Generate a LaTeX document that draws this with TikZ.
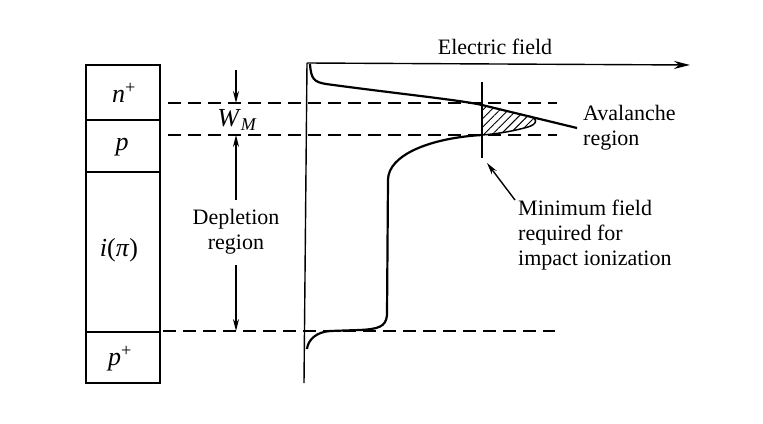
\documentclass[tikz,border=0pt]{standalone}
\usepackage{fontspec}
\setmainfont{Liberation Serif}
\usetikzlibrary{arrows.meta,patterns.meta}
\begin{document}
\begin{tikzpicture}[x=1pt,y=-1pt,
  txt/.style={font=\fontsize{22}{25}\selectfont, inner sep=0pt, align=left},
  lbl/.style={font=\fontsize{26}{28}\selectfont, inner sep=0pt},
  thin/.style={line width=1.4pt},
  thick/.style={line width=2.2pt},
  dsh/.style={line width=1.4pt, dash pattern=on 13pt off 7pt},
  arr/.style={line width=1.4pt, -{Stealth[length=12pt,width=6pt]}}]
\useasboundingbox (0,0) rectangle (763,423);
% layer stack
\draw[thin] (86,65) rectangle (160,383);
\draw[thin] (86,120) -- (160,120);
\draw[thin] (86,172) -- (160,172);
\draw[thin] (86,332) -- (160,332);
\node[lbl] (nplus) at (124,93) {\textit{n}\textsuperscript{+}};
\node[lbl] (pl) at (122,147) {\textit{p}};
\node[lbl] (il) at (119,250) {\textit{i}(\textit{π})};
\node[lbl] (pplus) at (120,359) {\textit{p}\textsuperscript{+}};
% dashed lines
\coordinate (d1a) at (168,103); \coordinate (d1b) at (557,103);
\coordinate (d2a) at (168,135); \coordinate (d2b) at (557,135);
\coordinate (d3a) at (163,331); \coordinate (d3b) at (555,331);
\draw[dsh] (d1a) -- (d1b);
\draw[dsh] (d2a) -- (d2b);
\draw[dsh] (d3a) -- (d3b);
% W_M and depletion region
\coordinate (wtop) at (236,70);
\coordinate (w1) at (236,103);
\coordinate (w2) at (236,135);
\coordinate (w3) at (236,331);
\node[lbl] (wm) at (237,120) {\textit{W}\raisebox{-0.3ex}{\fontsize{18}{19}\selectfont\textit{M}}};
\node[txt, align=center] (dep) at (236,232) {Depletion\\region};
\draw[arr] (wtop) -- (w1);
\draw[arr] (dep.north |- 0,200) -- (w2);
\draw[arr] (dep.south |- 0,265) -- (w3);
% axes
\coordinate (o) at (307,63);
\coordinate (ob) at (304,383);
\coordinate (xe) at (690,65);
\draw[thin] (o) -- (ob);
\draw[line width=1.4pt, -{Stealth[length=16pt,width=8pt]}] (o) -- (xe);
\node[txt] (ef) at (495,47) {Electric field};
% avalanche hatch
\fill[pattern={Lines[angle=45,distance=6pt,line width=0.9pt]}]
  (482,105) -- (528,116) .. controls (538,118) and (538,124) .. (528,127)
  .. controls (510,132) and (495,134) .. (482,135) -- cycle;
\draw[line width=1.5pt] (528,116) .. controls (538,118) and (538,124) .. (528,127)
  .. controls (510,132) and (495,134) .. (482,135);
% field profile
\draw[thick] (310,64) .. controls (311,79) and (314,82) .. (326,84)
  .. controls (400,94) and (460,100) .. (482,105) -- (577,128);
\draw[thick] (482,135) .. controls (430,138) and (388,155) .. (388,180)
  -- (387,315) .. controls (386,327) and (378,329) .. (360,330)
  -- (330,331) .. controls (316,332) and (308,340) .. (307,349);
% minimum field marker
\coordinate (mt) at (482,82);
\coordinate (mb) at (482,158);
\draw[thin] (mt) -- (mb);
\node[txt, anchor=north west] (min) at (518,200) {Minimum field\\required for\\impact ionization};
\draw[arr] (515,200) -- (487,163);
\node[txt, anchor=west] (aval) at (583,128) {Avalanche\\region};
\end{tikzpicture}
\end{document}
